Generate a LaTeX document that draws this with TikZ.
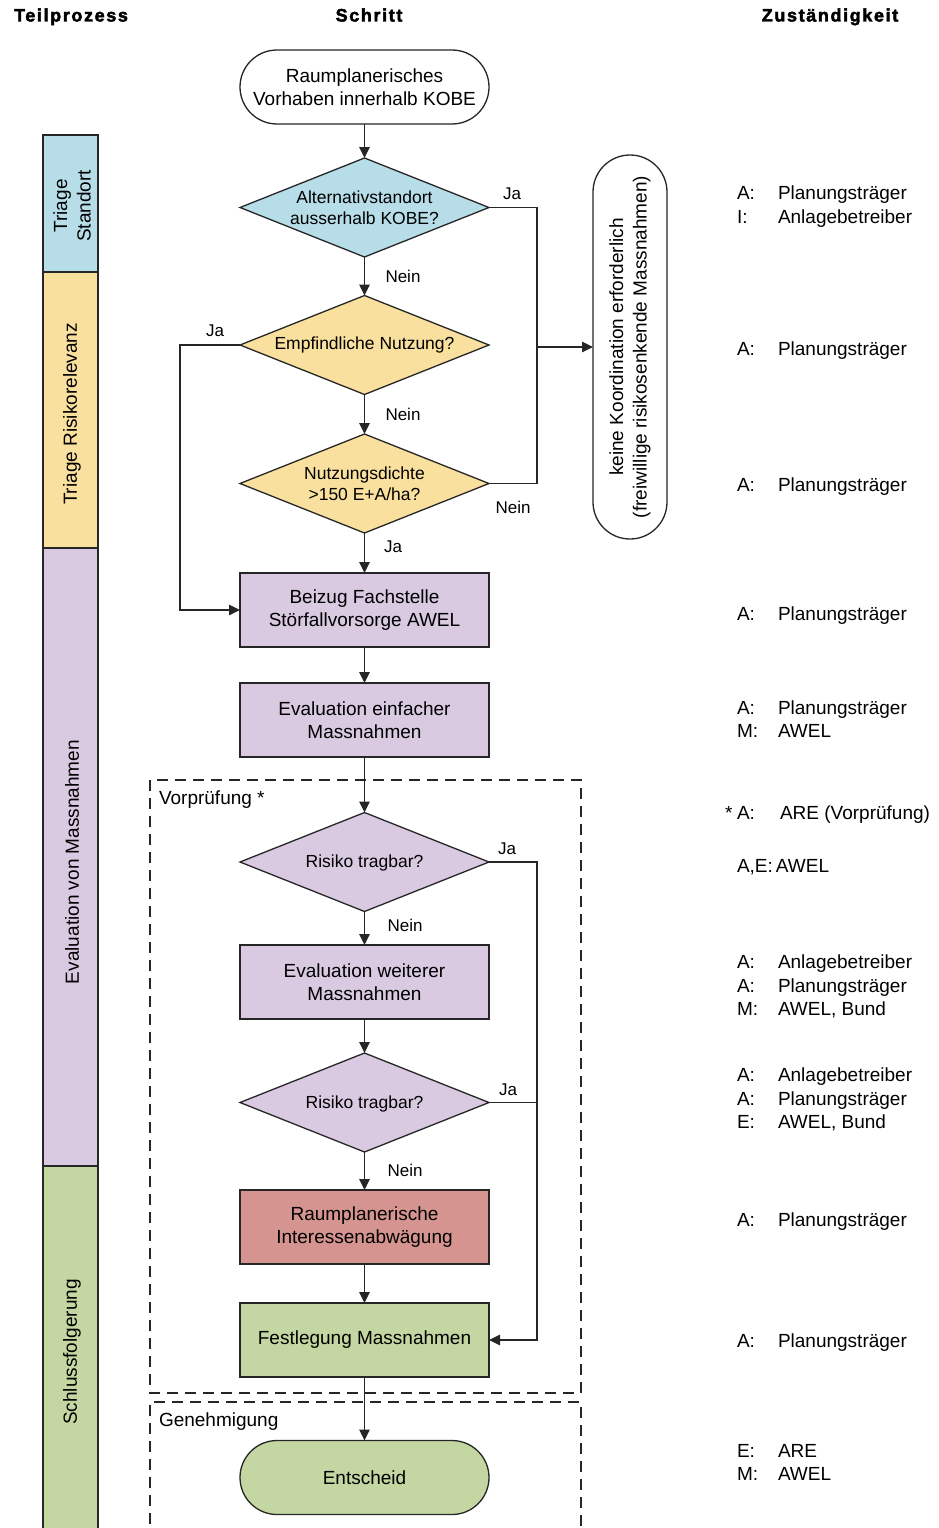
\documentclass[tikz,border=0pt]{standalone}
\usepackage{fontspec}
\setmainfont{Liberation Sans}
\newfontfamily\hdrfont[LetterSpace=9,FakeBold=2.5]{Liberation Sans}
\usetikzlibrary{arrows.meta,shapes.geometric,calc}

\definecolor{cblue}{RGB}{183,221,232}
\definecolor{cyel}{RGB}{249,224,158}
\definecolor{cpur}{RGB}{217,202,226}
\definecolor{cred}{RGB}{213,148,143}
\definecolor{cgrn}{RGB}{196,214,161}
\definecolor{cline}{RGB}{38,38,38}

\newcommand\bodyf{\fontsize{19}{23.5}\selectfont}
\newcommand\diaf{\fontsize{17.5}{20.5}\selectfont}
\newcommand\lblf{\fontsize{17}{20}\selectfont}
\newcommand\hdrf{\hdrfont\bfseries\fontsize{18}{20}\selectfont}

\newcommand\resp[4]{%
  \node[rk] (#1k) at (737,#2) {#3};
  \node[rt] (#1t) at (778,#2) {#4};}

\begin{document}
\begin{tikzpicture}[x=1pt,y=-1pt,
  every node/.style={inner sep=0pt, outer sep=0pt},
  ln/.style={draw=cline, line width=1.3pt},
  arr/.style={ln, -{Triangle[length=11pt,width=10.5pt]}},
  box/.style={ln, minimum width=249pt, minimum height=74pt, align=center, font=\bodyf},
  term/.style={box, rounded corners=37pt},
  diam/.style={ln, shape=diamond, minimum width=249pt, minimum height=99pt},
  dtext/.style={align=center, font=\diaf},
  lbl/.style={font=\lblf, text height=12.2pt, text depth=0pt},
  hdr/.style={font=\hdrf, text height=13pt, text depth=0pt},
  rk/.style={anchor=west, font=\bodyf, text height=13.7pt, text depth=0pt},
  rt/.style={rk},
  bar/.style={ln, minimum width=55pt},
  bartext/.style={rotate=90, align=center, font=\bodyf},
  dsh/.style={draw=cline, line width=1.3pt, dash pattern=on 11pt off 7pt},
]
\useasboundingbox (0,0) rectangle (938,1528);
\clip (0,0) rectangle (938,1528);

% headers
\node[hdr] (h1) at (71,15) {Teilprozess};
\node[hdr] (h2) at (369,15) {Schritt};
\node[hdr] (h3) at (830,15) {Zuständigkeit};

% left bars
\node[bar, fill=cblue, minimum height=137pt] (t1) at (70.5,203.5) {};
\node[bar, fill=cyel, minimum height=276pt] (t2) at (70.5,410) {};
\node[bar, fill=cpur, minimum height=618pt] (t3) at (70.5,857) {};
\node[bar, fill=cgrn, minimum height=380pt] (t4) at (70.5,1356) {};
\node[bartext] (t1x) at (72,206) {Triage\\Standort};
\node[bartext] (t2x) at (72,414) {Triage Risikorelevanz};
\node[bartext] (t3x) at (72,862) {Evaluation von Massnahmen};
\node[bartext] (t4x) at (72,1352) {Schlussfolgerung};

% dashed groups
\draw[dsh] (150,780) rectangle (581,1393);
\draw[dsh] (150,1560) -- (150,1402) -- (581,1402) -- (581,1560);
\node[font=\bodyf, anchor=west] (vp) at (159,800) {Vorprüfung *};
\node[font=\bodyf, anchor=west] (gen) at (159,1422) {Genehmigung};

% flow nodes
\node[term, fill=white] (s) at (364.5,87) {Raumplanerisches\\Vorhaben innerhalb KOBE};
\node[diam, fill=cblue] (d1) at (364.5,207.5) {};
\node[dtext] (d1x) at (d1) {Alternativstandort\\ausserhalb KOBE?};
\node[diam, fill=cyel] (d2) at (364.5,345) {};
\node[dtext] (d2x) at (d2) {Empfindliche Nutzung?};
\node[diam, fill=cyel] (d3) at (364.5,483.5) {};
\node[dtext] (d3x) at (d3) {Nutzungsdichte\\>150 E+A/ha?};
\node[box, fill=cpur] (b1) at (364.5,610) {Beizug Fachstelle\\Störfallvorsorge AWEL};
\node[box, fill=cpur] (b2) at (364.5,720) {Evaluation einfacher\\Massnahmen};
\node[diam, fill=cpur] (d4) at (364.5,862) {};
\node[dtext] (d4x) at (364.5,863) {Risiko tragbar?};
\node[box, fill=cpur] (b3) at (364.5,982) {Evaluation weiterer\\Massnahmen};
\node[diam, fill=cpur] (d5) at (364.5,1102.5) {};
\node[dtext] (d5x) at (364.5,1103.5) {Risiko tragbar?};
\node[box, fill=cred] (b4) at (364.5,1227) {Raumplanerische\\Interessenabwägung};
\node[box, fill=cgrn] (b5) at (364.5,1340) {Festlegung Massnahmen};
\node[term, fill=cgrn] (e) at (364.5,1477.5) {Entscheid};

\node[ln, fill=white, rotate=90, minimum width=384pt, minimum height=74pt,
      rounded corners=37pt, align=center, font=\bodyf] (k) at (630,347)
      {keine Koordination erforderlich\\(freiwillige risikosenkende Massnahmen)};

% connectors
\coordinate (r1) at (537,347);
\coordinate (r2) at (537,1340);
\coordinate (l1) at (180,345);
\draw[arr] (s) -- (d1);
\draw[arr] (d1) -- (d2);
\draw[arr] (d2) -- (d3);
\draw[arr] (d3) -- (b1);
\draw[arr] (b1) -- (b2);
\draw[arr] (b2) -- (d4);
\draw[arr] (d4) -- (b3);
\draw[arr] (b3) -- (d5);
\draw[arr] (d5) -- (b4);
\draw[arr] (b4) -- (b5);
\draw[arr] (b5) -- (e);
\draw[ln] (d1.east) -| (r1);
\draw[ln] (d3.east) -| (r1);
\draw[arr] (r1) -- (r1 -| k.north);
\draw[arr] (d2.west) -- (l1) |- (b1.west);
\draw[arr] (d4.east) -| (r2) -- (b5.east);
\draw[ln] (d5.east) -- (d5.east -| r2);

% labels
\node[lbl] (la1) at (512,193) {Ja};
\node[lbl] (la2) at (403,276) {Nein};
\node[lbl] (la3) at (215,330) {Ja};
\node[lbl] (la4) at (403,414) {Nein};
\node[lbl] (la5) at (513,507) {Nein};
\node[lbl] (la6) at (393,546) {Ja};
\node[lbl] (la7) at (507,848) {Ja};
\node[lbl] (la8) at (405,925) {Nein};
\node[lbl] (la9) at (508,1089) {Ja};
\node[lbl] (la10) at (405,1170) {Nein};

% responsibilities
\resp{ra}{193}{A:}{Planungsträger}
\resp{rb}{217}{I:}{Anlagebetreiber}
\resp{rc}{349}{A:}{Planungsträger}
\resp{rd}{485}{A:}{Planungsträger}
\resp{re}{614}{A:}{Planungsträger}
\resp{rf}{708}{A:}{Planungsträger}
\resp{rg}{731}{M:}{AWEL}
\node[rk] (rhs) at (725,813) {*};
\resp{rh}{813}{A:}{\hspace{2pt}ARE (Vorprüfung)}
\node[rk] (ri) at (737,866) {A,E:\hspace{3pt}AWEL};
\resp{rj}{962}{A:}{Anlagebetreiber}
\resp{rk}{986}{A:}{Planungsträger}
\resp{rl}{1009}{M:}{AWEL, Bund}
\resp{rm}{1075}{A:}{Anlagebetreiber}
\resp{rn}{1099}{A:}{Planungsträger}
\resp{ro}{1122}{E:}{AWEL, Bund}
\resp{rp}{1220}{A:}{Planungsträger}
\resp{rq}{1341}{A:}{Planungsträger}
\resp{rr}{1451}{E:}{ARE}
\resp{rs}{1474}{M:}{AWEL}
\end{tikzpicture}
\end{document}
